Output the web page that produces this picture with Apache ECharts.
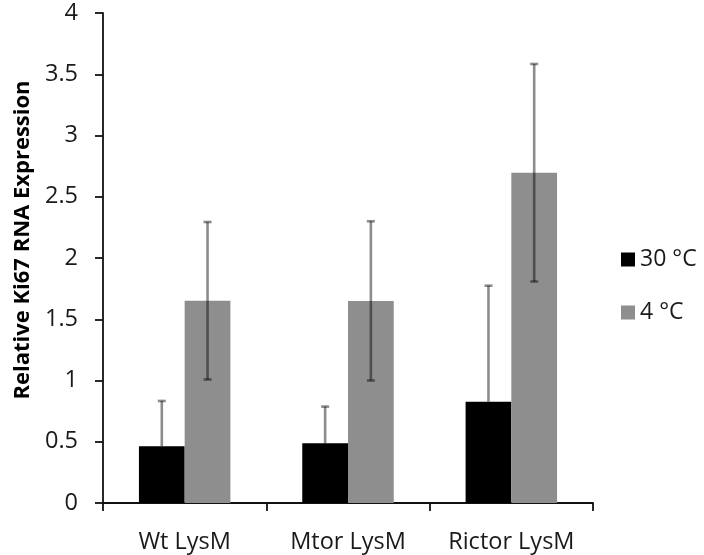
<!DOCTYPE html>
<html>
<head>
<meta charset="utf-8">
<style>
  html, body { margin: 0; padding: 0; background: #fff; }
  #chart { width: 704px; height: 555px; }
</style>
<script src="https://cdn.jsdelivr.net/npm/echarts@6/dist/echarts.min.js"></script>
</head>
<body>
<div id="chart"></div>
<script>
// Relative Ki67 RNA expression per genotype at two housing temperatures
const categories = ['Wt LysM', 'Mtor LysM', 'Rictor LysM'];
const seriesNames = ['30 °C', '4 °C'];
const warmValues = [0.463, 0.487, 0.827];
const warmErrors = [0.37, 0.30, 0.947];
const coldValues = [1.651, 1.65, 2.696];
const coldErrors = [0.643, 0.65, 0.888];

const FONT = 'Open Sans';
const CATEGORY_GAP = 0.44;

// Error bar data: [category index, mean, error, series slot, draw lower arm]
const errorData = [];
warmValues.forEach((v, i) => errorData.push([i, v, warmErrors[i], 0, 0]));
coldValues.forEach((v, i) => errorData.push([i, v, coldErrors[i], 1, 1]));

function renderErrorBar(params, api) {
  const cat = api.value(0);
  const mean = api.value(1);
  const err = api.value(2);
  const slot = api.value(3);
  const both = api.value(4);
  const bandWidth = api.size([1, 0])[0];
  const barW = bandWidth * (1 - CATEGORY_GAP) / 2;
  const center = api.coord([cat, mean]);
  const x = center[0] + (slot === 0 ? -barW / 2 : barW / 2);
  const top = api.coord([cat, mean + err])[1];
  const bottom = both ? api.coord([cat, mean - err])[1] : center[1];
  const cap = 4;
  const style = { stroke: 'rgba(0,0,0,0.45)', lineWidth: 2.6 };
  const children = [
    { type: 'line', shape: { x1: x, y1: top, x2: x, y2: bottom }, style },
    { type: 'line', shape: { x1: x - cap, y1: top, x2: x + cap, y2: top }, style }
  ];
  if (both) {
    children.push({ type: 'line', shape: { x1: x - cap, y1: bottom, x2: x + cap, y2: bottom }, style });
  }
  return { type: 'group', children };
}

const chart = echarts.init(document.getElementById('chart'));
chart.setOption({
  animation: false,
  backgroundColor: '#ffffff',
  textStyle: { fontFamily: FONT },
  grid: { left: 103, right: 111, top: 13, bottom: 52 },
  legend: {
    data: seriesNames,
    orient: 'vertical',
    left: 616,
    top: 243,
    itemWidth: 14,
    itemHeight: 14,
    itemGap: 30,
    icon: 'rect',
    textStyle: { fontFamily: FONT, fontSize: 23, color: '#1a1a1a' }
  },
  xAxis: {
    type: 'category',
    data: categories,
    axisLine: { lineStyle: { color: '#111', width: 1.8 } },
    axisTick: { show: true, length: 8, lineStyle: { color: '#111', width: 1.8 } },
    axisLabel: {
      interval: 0, hideOverlap: false,
      fontFamily: FONT, fontSize: 23.5, color: '#1a1a1a', margin: 27
    }
  },
  yAxis: {
    type: 'value',
    min: 0,
    max: 4,
    interval: 0.5,
    splitLine: { show: false },
    axisLine: { show: true, lineStyle: { color: '#111', width: 1.8 } },
    axisTick: { show: true, length: 8, lineStyle: { color: '#111', width: 1.8 } },
    axisLabel: { fontFamily: FONT, fontSize: 23.5, color: '#1a1a1a', margin: 25 },
    name: 'Relative Ki67 RNA Expression',
    nameLocation: 'middle',
    nameRotate: 90,
    nameGap: 68,
    nameTextStyle: {
      fontFamily: FONT, fontSize: 22, fontWeight: 'bold', color: '#000',
      padding: [0, 0, 0, 36]
    }
  },
  series: [
    {
      name: seriesNames[0],
      type: 'bar',
      data: warmValues,
      barGap: '0%',
      barCategoryGap: (CATEGORY_GAP * 100) + '%',
      itemStyle: { color: '#000000' }
    },
    {
      name: seriesNames[1],
      type: 'bar',
      data: coldValues,
      barGap: '0%',
      barCategoryGap: (CATEGORY_GAP * 100) + '%',
      itemStyle: { color: '#8e8e8e' }
    },
    {
      type: 'custom',
      renderItem: renderErrorBar,
      data: errorData,
      z: 5,
      silent: true
    }
  ]
});
</script>
</body>
</html>
